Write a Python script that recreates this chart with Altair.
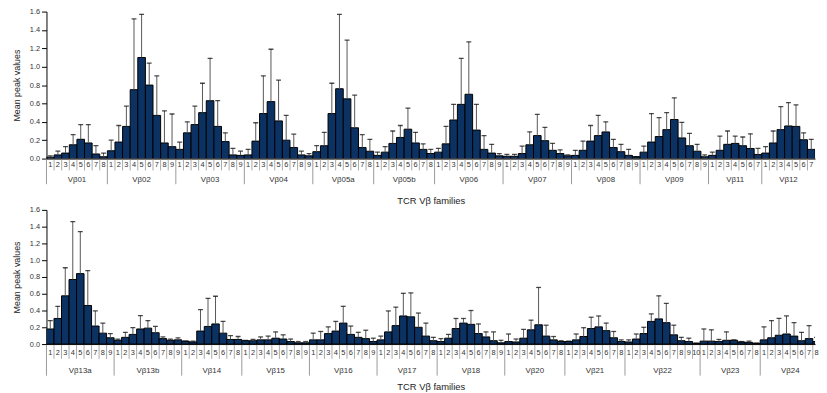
import altair as alt
import pandas as pd

FONT = "Liberation Sans"
BAR_FILL = "#0b3262"

# ---------------- data ----------------
top_families = ["Vβ01", "Vβ02", "Vβ03", "Vβ04", "Vβ05a", "Vβ05b",
                "Vβ06", "Vβ07", "Vβ08", "Vβ09", "Vβ11", "Vβ12"]
top_means = [
    [0.015, 0.04, 0.06, 0.15, 0.21, 0.17, 0.05, 0.02],
    [0.085, 0.18, 0.35, 0.75, 1.10, 0.80, 0.47, 0.17, 0.13],
    [0.10, 0.28, 0.37, 0.50, 0.63, 0.35, 0.185, 0.04, 0.035],
    [0.04, 0.19, 0.49, 0.62, 0.41, 0.20, 0.12, 0.04, 0.03],
    [0.075, 0.14, 0.49, 0.76, 0.65, 0.335, 0.12, 0.08],
    [0.035, 0.07, 0.165, 0.23, 0.32, 0.17, 0.10, 0.055],
    [0.07, 0.16, 0.42, 0.59, 0.70, 0.31, 0.10, 0.06, 0.03],
    [0.025, 0.025, 0.055, 0.15, 0.25, 0.195, 0.09, 0.055, 0.03],
    [0.035, 0.09, 0.19, 0.25, 0.29, 0.12, 0.075, 0.035, 0.02],
    [0.07, 0.18, 0.24, 0.315, 0.425, 0.225, 0.14, 0.08, 0.02],
    [0.035, 0.09, 0.155, 0.165, 0.14, 0.11, 0.045],
    [0.06, 0.17, 0.315, 0.355, 0.35, 0.205, 0.10],
]
top_upper = [
    [0.03, 0.08, 0.13, 0.26, 0.37, 0.37, 0.14, 0.06],
    [0.20, 0.36, 0.57, 1.52, 1.57, 1.04, 0.90, 0.52, 0.485],
    [0.18, 0.40, 0.57, 0.82, 1.09, 0.63, 0.28, 0.11, 0.08],
    [0.10, 0.39, 0.90, 1.19, 0.855, 0.47, 0.265, 0.08, 0.055],
    [0.14, 0.285, 0.82, 1.57, 1.29, 0.69, 0.26, 0.21],
    [0.07, 0.13, 0.30, 0.36, 0.55, 0.285, 0.16, 0.10],
    [0.11, 0.35, 0.59, 1.09, 1.27, 0.59, 0.25, 0.155, 0.055],
    [0.045, 0.045, 0.135, 0.29, 0.48, 0.34, 0.165, 0.095, 0.04],
    [0.09, 0.19, 0.36, 0.47, 0.40, 0.21, 0.155, 0.10, 0.02],
    [0.135, 0.49, 0.445, 0.50, 0.66, 0.395, 0.275, 0.155, 0.04],
    [0.07, 0.245, 0.30, 0.245, 0.235, 0.27, 0.11],
    [0.13, 0.30, 0.565, 0.61, 0.585, 0.28, 0.21],
]

bottom_families = ["Vβ13a", "Vβ13b", "Vβ14", "Vβ15", "Vβ16", "Vβ17",
                   "Vβ18", "Vβ20", "Vβ21", "Vβ22", "Vβ23", "Vβ24"]
bottom_means = [
    [0.18, 0.305, 0.575, 0.77, 0.84, 0.46, 0.215, 0.13, 0.075],
    [0.045, 0.08, 0.115, 0.18, 0.19, 0.135, 0.065, 0.045, 0.05],
    [0.035, 0.025, 0.155, 0.21, 0.24, 0.13, 0.055, 0.055],
    [0.04, 0.04, 0.05, 0.05, 0.07, 0.06, 0.03, 0.015, 0.015],
    [0.05, 0.05, 0.125, 0.155, 0.25, 0.115, 0.08, 0.065, 0.03],
    [0.05, 0.145, 0.22, 0.335, 0.325, 0.20, 0.095, 0.04],
    [0.03, 0.07, 0.185, 0.25, 0.235, 0.125, 0.085, 0.04, 0.015],
    [0.03, 0.025, 0.07, 0.17, 0.23, 0.095, 0.05, 0.03],
    [0.03, 0.05, 0.09, 0.185, 0.205, 0.16, 0.075, 0.03],
    [0.025, 0.06, 0.125, 0.27, 0.30, 0.255, 0.11, 0.04, 0.03, 0.01],
    [0.035, 0.035, 0.03, 0.045, 0.045, 0.025, 0.02, 0.01],
    [0.05, 0.075, 0.105, 0.12, 0.095, 0.04, 0.065, 0.03],
]
bottom_upper = [
    [0.28, 0.45, 0.91, 1.46, 1.34, 0.875, 0.395, 0.25, 0.125],
    [0.06, 0.14, 0.195, 0.34, 0.28, 0.21, 0.085, 0.06, 0.075],
    [0.035, 0.035, 0.41, 0.545, 0.57, 0.27, 0.10, 0.09],
    [0.045, 0.055, 0.085, 0.095, 0.145, 0.11, 0.06, 0.03, 0.03],
    [0.13, 0.15, 0.205, 0.27, 0.45, 0.215, 0.14, 0.165, 0.07],
    [0.095, 0.395, 0.44, 0.605, 0.61, 0.37, 0.25, 0.08],
    [0.065, 0.115, 0.305, 0.305, 0.40, 0.24, 0.145, 0.145, 0.045],
    [0.12, 0.06, 0.175, 0.285, 0.675, 0.225, 0.09, 0.04],
    [0.035, 0.12, 0.195, 0.32, 0.335, 0.25, 0.15, 0.05],
    [0.05, 0.12, 0.20, 0.36, 0.575, 0.485, 0.225, 0.08, 0.07, 0.01],
    [0.18, 0.17, 0.055, 0.145, 0.05, 0.03, 0.035, 0.01],
    [0.205, 0.28, 0.305, 0.335, 0.255, 0.14, 0.22, 0.08],
]

y_ticks = [0.0, 0.2, 0.4, 0.6, 0.8, 1.0, 1.2, 1.4, 1.6]


def build_frames(families, means, upper):
    rows, fams = [], []
    i = 0
    for fam, ms, us in zip(families, means, upper):
        first = i
        for p, (m, u) in enumerate(zip(ms, us), start=1):
            rows.append(dict(family=fam, pos=str(p), start=i, end=i + 1,
                             mid=i + 0.5, zero=0.0, mean=m, upper=u,
                             first=(p == 1)))
            i += 1
        fams.append(dict(family=fam, mid=(first + i) / 2.0))
    return pd.DataFrame(rows), pd.DataFrame(fams), i


def panel(families, means, upper, width, height, xmax, num_off, fam_off,
          short_len, long_len, title_pad):
    df, fam_df, n = build_frames(families, means, upper)
    xs = alt.Scale(domain=[0, xmax], nice=False, zero=True)
    ys = alt.Scale(domain=[0, 1.6], nice=False)
    x_axis = alt.Axis(labels=False, ticks=False, grid=False,
                      domain=True, domainColor="black",
                      title="TCR Vβ families", titleFontSize=9.5,
                      titleFontWeight="normal", titleColor="#222",
                      titleFont=FONT, titlePadding=title_pad)
    y_axis = alt.Axis(values=y_ticks, format=".1f", grid=False,
                      labelFontSize=7.5, labelColor="#333",
                      labelFont=FONT, tickSize=5, tickColor="black",
                      domainColor="black", labelPadding=2,
                      title="Mean peak values", titleFontSize=9,
                      titleFontWeight="normal", titleColor="#222",
                      titleFont=FONT, titlePadding=8)
    base = alt.Chart(df)

    bars = base.mark_bar(color=BAR_FILL, stroke="black", strokeWidth=1,
                         clip=True).encode(
        x=alt.X("start:Q", scale=xs, axis=x_axis),
        x2="end:Q",
        y=alt.Y("mean:Q", scale=ys, axis=y_axis),
        y2="zero:Q",
    )
    err = base.mark_rule(color="#555", strokeWidth=1, clip=True).encode(
        x=alt.X("mid:Q", scale=xs, axis=x_axis),
        y=alt.Y("mean:Q", scale=ys, axis=y_axis),
        y2="upper:Q",
    )
    caps = base.mark_tick(orient="horizontal", size=5, thickness=1.3,
                          color="black", clip=True).encode(
        x=alt.X("mid:Q", scale=xs, axis=x_axis),
        y=alt.Y("upper:Q", scale=ys, axis=y_axis),
    )
    nums = base.mark_text(fontSize=7.5, color="#333", font=FONT,
                          baseline="middle").encode(
        x=alt.X("mid:Q", scale=xs, axis=x_axis),
        y=alt.value(height + num_off),
        text="pos:N",
    )
    short_sep = base.transform_filter("!datum.first").mark_rule(
        color="#aaa", strokeWidth=1).encode(
        x=alt.X("start:Q", scale=xs, axis=x_axis),
        y=alt.value(height + 1), y2=alt.value(height + short_len),
    )
    long_sep = base.transform_filter("datum.first").mark_rule(
        color="#999", strokeWidth=1).encode(
        x=alt.X("start:Q", scale=xs, axis=x_axis),
        y=alt.value(height + 1), y2=alt.value(height + long_len),
    )
    fam_text = alt.Chart(fam_df).mark_text(
        fontSize=8, color="#333", font=FONT, baseline="middle").encode(
        x=alt.X("mid:Q", scale=xs, axis=x_axis),
        y=alt.value(height + fam_off),
        text="family:N",
    )
    return alt.layer(bars, err, caps, short_sep, long_sep, nums,
                     fam_text).properties(width=width, height=height)


W = 779
top = panel(top_families, top_means, top_upper, W, 149, 101,
            num_off=7, fam_off=22, short_len=12, long_len=26, title_pad=38)
bottom = panel(bottom_families, bottom_means, bottom_upper, W, 136, 102.3,
               num_off=9, fam_off=27, short_len=15, long_len=32, title_pad=38)

chart = alt.vconcat(top, bottom, spacing=0).properties(
    padding={"left": 4, "top": -3, "right": 0, "bottom": 0}
).configure(font=FONT).configure_view(stroke=None)

chart.save("out.html", embed_options={"renderer": "svg", "actions": False})
